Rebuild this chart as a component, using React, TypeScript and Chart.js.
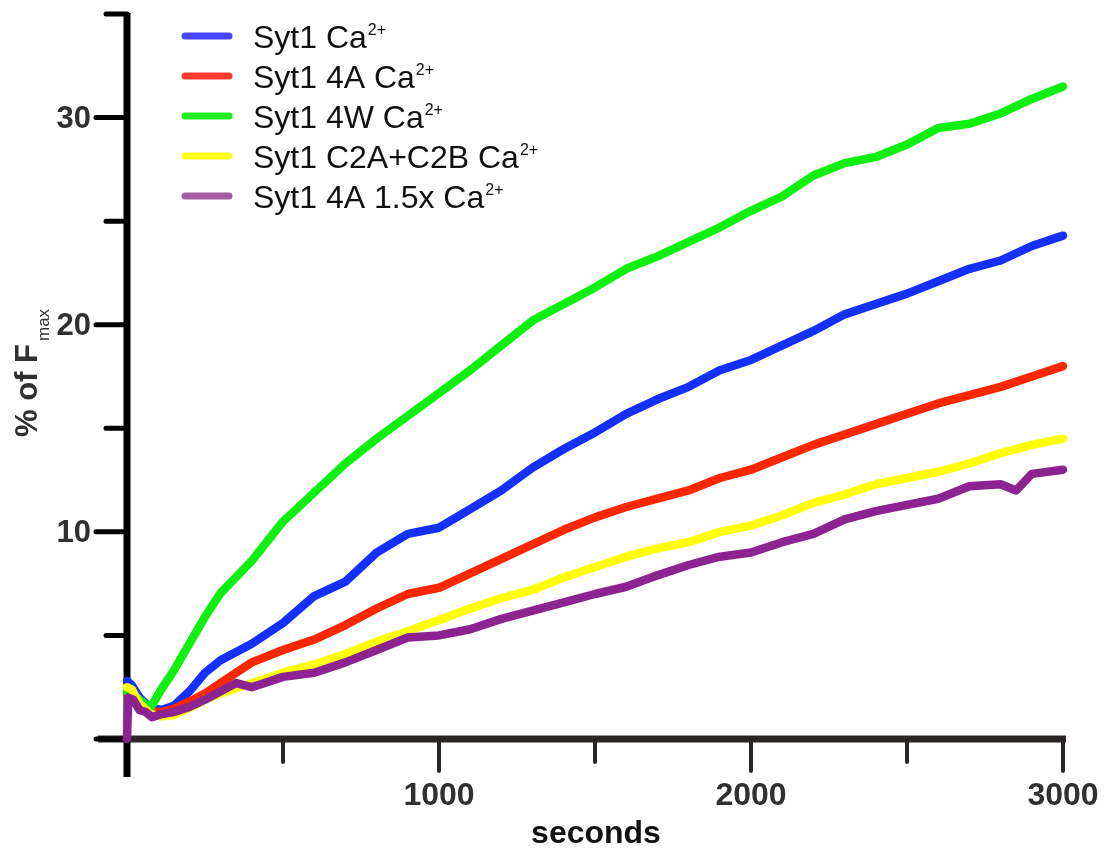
import React, { useEffect, useRef } from "react";
import { Chart, registerables } from "chart.js";

Chart.register(...registerables);

// ---- data ----
const seriesLabels = [
  "Syt1 Ca",
  "Syt1 4A Ca",
  "Syt1 4W Ca",
  "Syt1 C2A+C2B Ca",
  "Syt1 4A 1.5x Ca",
];
const superscript = "2+";

const timesMain = [0, 15, 40, 75, 110, 150, 200, 250, 300, 400, 500, 600, 700, 800, 900, 1000, 1100, 1200, 1300, 1400, 1500, 1600, 1700, 1800, 1900, 2000, 2100, 2200, 2300, 2400, 2500, 2600, 2700, 2800, 2900, 3000];

const blueValues = [2.8, 2.6, 2.0, 1.5, 1.4, 1.6, 2.3, 3.2, 3.8, 4.6, 5.6, 6.9, 7.6, 9.0, 9.9, 10.2, 11.1, 12.0, 13.1, 14.0, 14.8, 15.7, 16.4, 17.0, 17.8, 18.3, 19.0, 19.7, 20.5, 21.0, 21.5, 22.1, 22.7, 23.1, 23.8, 24.3];
const redValues = [2.2, 2.0, 1.6, 1.3, 1.3, 1.45, 1.8, 2.2, 2.7, 3.7, 4.3, 4.8, 5.5, 6.3, 7.0, 7.3, 8.0, 8.7, 9.4, 10.1, 10.7, 11.2, 11.6, 12.0, 12.6, 13.0, 13.6, 14.2, 14.7, 15.2, 15.7, 16.2, 16.6, 17.0, 17.5, 18.0];
const greenValues = [2.3, 2.2, 1.9, 1.5, 2.4, 3.3, 4.6, 5.9, 7.05, 8.6, 10.5, 11.9, 13.3, 14.5, 15.6, 16.7, 17.8, 19.0, 20.2, 21.0, 21.8, 22.7, 23.3, 24.0, 24.7, 25.5, 26.2, 27.2, 27.8, 28.1, 28.7, 29.5, 29.7, 30.2, 30.9, 31.5];
const yellowValues = [2.5, 2.4, 1.7, 1.2, 1.1, 1.15, 1.5, 1.9, 2.2, 2.7, 3.2, 3.6, 4.1, 4.7, 5.2, 5.75, 6.3, 6.8, 7.2, 7.8, 8.3, 8.8, 9.2, 9.5, 10.0, 10.3, 10.8, 11.4, 11.8, 12.3, 12.6, 12.9, 13.3, 13.8, 14.2, 14.5];

const timesPurple = [0, 4, 20, 40, 60, 80, 110, 150, 200, 250, 300, 350, 400, 500, 600, 700, 800, 900, 1000, 1100, 1200, 1300, 1400, 1500, 1600, 1700, 1800, 1900, 2000, 2100, 2200, 2300, 2400, 2500, 2600, 2700, 2800, 2850, 2900, 3000];
const purpleValues = [0, 2.0, 1.9, 1.4, 1.3, 1.05, 1.2, 1.3, 1.55, 1.9, 2.3, 2.7, 2.5, 3.0, 3.2, 3.7, 4.3, 4.9, 5.0, 5.3, 5.8, 6.2, 6.6, 7.0, 7.35, 7.9, 8.4, 8.8, 9.0, 9.5, 9.9, 10.6, 11.0, 11.3, 11.6, 12.2, 12.3, 12.0, 12.8, 13.0];

const lineColors = ["#1430ff", "#ff2600", "#10f010", "#ffff00", "#8c2390"];
const legendColors = ["#4646ff", "#ff3a30", "#1fee1f", "#ffff1a", "#a65ca2"];
const drawOrder = [5, 4, 3, 2, 1];

const yTicks = [0, 5, 10, 15, 20, 25, 30, 35];
const yLabelled = [10, 20, 30];
const xTicks = [0, 500, 1000, 1500, 2000, 2500, 3000];
const xLabelled = [1000, 2000, 3000];

const FONT = "'Liberation Sans', Arial, Helvetica, sans-serif";

const axesPlugin = {
  id: "customAxes",
  beforeDatasetsDraw(chart: any) {
    const ctx = chart.ctx;
    const xs = chart.scales.x;
    const ys = chart.scales.y;
    const x0 = xs.getPixelForValue(0);
    const y0 = ys.getPixelForValue(0);
    ctx.save();
    // x axis line
    ctx.strokeStyle = "#2a2525";
    ctx.lineWidth = 7;
    ctx.lineCap = "butt";
    ctx.beginPath();
    ctx.moveTo(98, y0);
    ctx.lineTo(xs.getPixelForValue(3000) + 3, y0);
    ctx.stroke();
    // x ticks
    ctx.lineWidth = 4;
    ctx.lineCap = "round";
    xTicks.forEach((v) => {
      const px = xs.getPixelForValue(v);
      const major = v % 1000 === 0;
      ctx.beginPath();
      ctx.moveTo(px, y0);
      ctx.lineTo(px, y0 + (major ? 32 : 23));
      ctx.stroke();
    });
    // y axis line
    ctx.strokeStyle = "#000";
    ctx.lineWidth = 7;
    ctx.lineCap = "butt";
    ctx.beginPath();
    ctx.moveTo(x0, ys.getPixelForValue(35) - 1);
    ctx.lineTo(x0, y0 + 38);
    ctx.stroke();
    // y ticks
    ctx.lineWidth = 5;
    ctx.lineCap = "round";
    yTicks.forEach((v) => {
      const py = ys.getPixelForValue(v);
      const major = v % 10 === 0;
      ctx.beginPath();
      ctx.moveTo(x0, py);
      ctx.lineTo(x0 - (major ? 31 : 21), py);
      ctx.stroke();
    });
    // tick labels
    ctx.fillStyle = "#303030";
    ctx.font = `bold 31px ${FONT}`;
    ctx.textAlign = "right";
    ctx.textBaseline = "middle";
    yLabelled.forEach((v) => {
      ctx.fillText(String(v), 91, ys.getPixelForValue(v) + 2);
    });
    ctx.font = `bold 32px ${FONT}`;
    ctx.textAlign = "center";
    ctx.textBaseline = "alphabetic";
    xLabelled.forEach((v) => {
      ctx.fillText(String(v), xs.getPixelForValue(v), 805);
    });
    // x title
    ctx.fillStyle = "#111";
    ctx.fillText("seconds", (xs.left + xs.right) / 2 + 1, 843);
    // y title
    ctx.save();
    ctx.translate(37, 437);
    ctx.rotate(-Math.PI / 2);
    ctx.fillStyle = "#303030";
    ctx.textAlign = "left";
    ctx.font = `bold 31px ${FONT}`;
    const main = "% of F";
    ctx.fillText(main, 0, 0);
    const w = ctx.measureText(main).width;
    ctx.font = `17px ${FONT}`;
    ctx.fillText("max", w + 3, 12);
    ctx.restore();
    ctx.restore();
  },
  afterDraw(chart: any) {
    const ctx = chart.ctx;
    ctx.save();
    seriesLabels.forEach((label, i) => {
      const y = 36 + 40 * i;
      ctx.strokeStyle = legendColors[i];
      ctx.lineWidth = 7;
      ctx.lineCap = "round";
      ctx.beginPath();
      ctx.moveTo(185, y);
      ctx.lineTo(229, y);
      ctx.stroke();
      ctx.fillStyle = "#111";
      ctx.font = `32px ${FONT}`;
      ctx.textAlign = "left";
      ctx.textBaseline = "alphabetic";
      ctx.fillText(label, 253, y + 12);
      const w = ctx.measureText(label).width;
      ctx.font = `16px ${FONT}`;
      ctx.fillText(superscript, 253 + w + 1, y - 1);
    });
    ctx.restore();
  },
};

function buildSeries(times: number[], values: number[]) {
  return times.map((t, i) => ({ x: t, y: values[i] }));
}

export default function App() {
  const canvasRef = useRef<HTMLCanvasElement | null>(null);

  useEffect(() => {
    if (!canvasRef.current) return;
    const seriesData = [
      buildSeries(timesMain, blueValues),
      buildSeries(timesMain, redValues),
      buildSeries(timesMain, greenValues),
      buildSeries(timesMain, yellowValues),
      buildSeries(timesPurple, purpleValues),
    ];
    const chart = new Chart(canvasRef.current, {
      type: "line",
      data: {
        datasets: seriesData.map((d, i) => ({
          label: seriesLabels[i] + superscript,
          data: d,
          borderColor: lineColors[i],
          backgroundColor: lineColors[i],
          borderWidth: 8.5,
          pointRadius: 0,
          tension: 0,
          fill: false,
          borderCapStyle: "round",
          borderJoinStyle: "round",
          clip: false,
          order: drawOrder[i],
        })),
      } as any,
      options: {
        animation: false,
        responsive: false,
        maintainAspectRatio: false,
        parsing: false,
        layout: { padding: { left: 127, right: 47, top: 14, bottom: 110 } },
        scales: {
          x: { type: "linear", min: 0, max: 3000, display: false },
          y: { type: "linear", min: 0, max: 35, display: false },
        },
        plugins: {
          legend: { display: false },
          tooltip: { enabled: false },
        },
      } as any,
      plugins: [axesPlugin],
    });
    return () => chart.destroy();
  }, []);

  return (
    <div style={{ position: "fixed", left: 0, top: 0, width: 1110, height: 849, background: "#fff" }}>
      <canvas ref={canvasRef} width={1110} height={849} style={{ width: 1110, height: 849 }} />
    </div>
  );
}
